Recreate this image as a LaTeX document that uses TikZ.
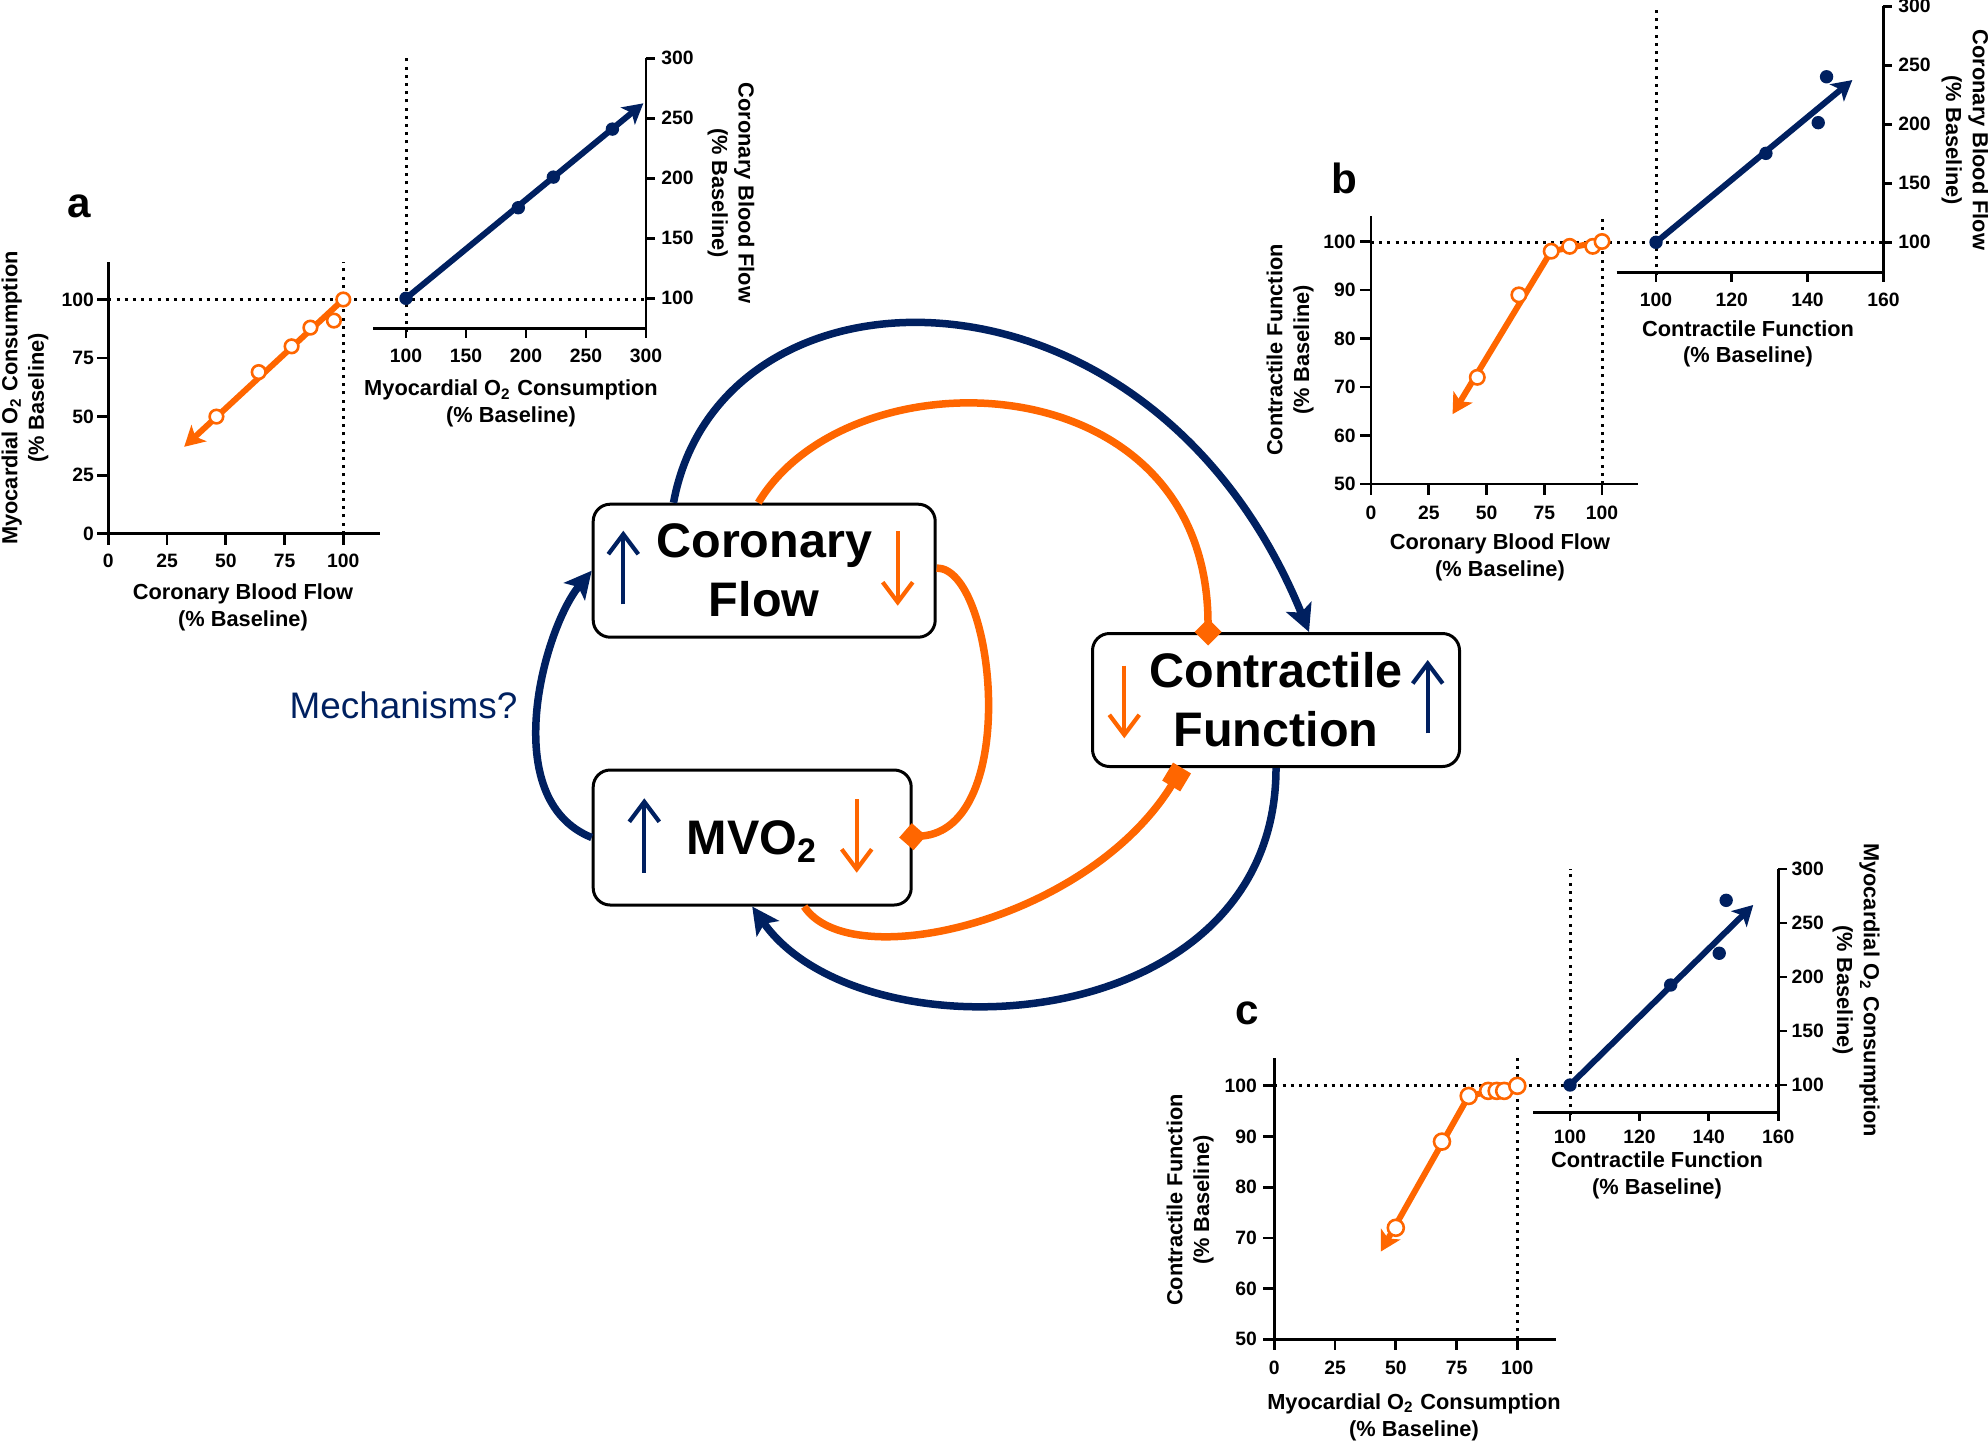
\documentclass[tikz,border=0pt]{standalone}
\usepackage{fontspec}
\setmainfont{Liberation Sans}
\usetikzlibrary{arrows.meta}
\definecolor{navy}{HTML}{002060}
\definecolor{orng}{HTML}{FF6600}
\tikzset{
  axline/.style={line width=0.28mm},
  dotline/.style={line width=0.3mm,dash pattern=on 0.3mm off 0.52mm},
  ticklab/.style={font=\fontsize{5.5}{6.5}\selectfont\bfseries,inner sep=0pt},
  axtitle/.style={font=\fontsize{6.2}{7.6}\selectfont\bfseries,align=center,inner sep=0pt},
  plabel/.style={font=\fontsize{12}{14}\selectfont\bfseries,inner sep=0pt},
  odot/.style={draw=orng,fill=white,line width=0.26mm},
  ofit/.style={orng,line width=0.6mm,line join=round,-{Stealth[length=2mm,width=2.2mm,inset=0.5mm]}},
  nfit/.style={navy,line width=0.6mm,-{Stealth[length=2mm,width=2.2mm,inset=0.5mm]}},
  fbox/.style={draw,line width=0.3mm,rounded corners=1.7mm,align=center,inner sep=0pt,
    font=\fontsize{13.8}{16.8}\selectfont\bfseries},
  nlink/.style={navy,line width=0.75mm,-{Stealth[length=2.7mm,width=2.7mm,inset=0.6mm]}},
  olink/.style={orng,line width=0.75mm,-{Turned Square[length=2.7mm,width=2.7mm]}},
  oslink/.style={orng,line width=0.75mm,-{Square[length=2.1mm,width=2.1mm]}},
  uparr/.style={navy,line width=0.42mm,-{Straight Barb[length=2mm,width=3mm]}},
  dnarr/.style={orng,line width=0.42mm,-{Straight Barb[length=2mm,width=3mm]}},
}
\begin{document}
\begin{tikzpicture}[x=0.1mm,y=-0.1mm]
\useasboundingbox (0,0) rectangle (1988,1442);

% baselines of the three panels
\draw[dotline] (108.3,299) -- (646,299);
\draw[dotline] (1371,242) -- (1883.3,242);
\draw[dotline] (1274.3,1085.4) -- (1778.3,1085.4);

% panel a, left
\begin{scope}[shift={(108.3,533.7)},x=0.235mm,y=0.2342mm]
  \draw[axline] (0,116) -- (0,0) -- (115.6,0);
  \foreach \v in {0,25,...,100}{
    \draw[axline] (\v,0) -- ++(0,-1.1mm) node[ticklab,yshift=-1.6mm]{\v};
    \draw[axline] (0,\v) -- ++(-1.1mm,0) node[ticklab,anchor=east,xshift=-0.2mm]{\v};}
  \draw[dotline] (100,0) -- (100,116);
  \draw[ofit] (100,100) -- (32.3,37.1);
  \foreach \p/\q in {46/50,64/69,78/80,86/88,96/91,100/100}
    \draw[odot] (\p,\q) circle[radius=0.68mm];
\end{scope}
% panel a, right
\begin{scope}[shift={(286,418.3)},x=0.12mm,y=0.12mm]
  \draw[axline] (72.5,75) -- (300,75) -- (300,300);
  \foreach \v in {100,150,...,300}{
    \draw[axline] (\v,75) -- ++(0,-1mm) node[ticklab,yshift=-1.8mm]{\v};
    \draw[axline] (300,\v) -- ++(0.9mm,0) node[ticklab,anchor=west,xshift=0.5mm]{\v};}
  \draw[dotline] (100,72) -- (100,300);
  \draw[nfit] (100,100) -- (297.8,262.5);
  \foreach \p/\q in {100/100,193.6/175.5,222.8/201,272/241}
    \fill[navy] (\p,\q) circle[radius=0.67mm];
\end{scope}

% panel b, left
\begin{scope}[shift={(1371,726.5)},x=0.231mm,y=0.485mm]
  \draw[axline] (0,105.2) -- (0,50) -- (115.6,50);
  \foreach \v in {0,25,...,100}
    \draw[axline] (\v,50) -- ++(0,-1.1mm) node[ticklab,yshift=-1.75mm]{\v};
  \foreach \v in {50,60,...,100}
    \draw[axline] (0,\v) -- ++(-1.1mm,0) node[ticklab,anchor=east,xshift=-0.3mm]{\v};
  \draw[dotline] (100,50) -- (100,105.2);
  \draw[ofit] (100,100) -- (78,98) -- (35.3,64.4);
  \foreach \p/\q in {46/72,64/89,78/98,86/99,96/99,100/100}
    \draw[odot] (\p,\q) circle[radius=0.72mm];
\end{scope}
% panel b, right
\begin{scope}[shift={(1277,360.3)},x=0.379mm,y=0.118mm]
  \draw[axline] (89.6,74.6) -- (160,74.6) -- (160,300);
  \foreach \v in {100,120,140,160}
    \draw[axline] (\v,74.6) -- ++(0,-0.95mm) node[ticklab,yshift=-1.8mm]{\v};
  \foreach \v in {100,150,...,300}
    \draw[axline] (160,\v) -- ++(0.9mm,0) node[ticklab,anchor=west,xshift=0.45mm]{\v};
  \draw[dotline] (100,72) -- (100,300);
  \draw[nfit] (100,100) -- (151.8,237.5);
  \foreach \p/\q in {100/100,129/175.4,142.8/201.4,145/240.3}
    \fill[navy] (\p,\q) circle[radius=0.67mm];
\end{scope}

% panel c, left
\begin{scope}[shift={(1274.3,1592.8)},x=0.243mm,y=0.507mm]
  \draw[axline] (0,105.4) -- (0,50) -- (115.9,50);
  \foreach \v in {0,25,...,100}
    \draw[axline] (\v,50) -- ++(0,-1.1mm) node[ticklab,yshift=-1.74mm]{\v};
  \foreach \v in {50,60,...,100}
    \draw[axline] (0,\v) -- ++(-1.1mm,0) node[ticklab,anchor=east,xshift=-0.5mm]{\v};
  \draw[dotline] (100,50) -- (100,105.4);
  \draw[ofit] (100,100) -- (80,98) -- (43.8,67.3);
  \foreach \p/\q in {50/72,69/89,80/98,88/99,91.5/99,94.6/99,100/100}
    \draw[odot] (\p,\q) circle[radius=0.8mm];
\end{scope}
% panel c, right
\begin{scope}[shift={(1223,1193)},x=0.347mm,y=0.108mm]
  \draw[axline] (89.4,74.7) -- (160,74.7) -- (160,300);
  \foreach \v in {100,120,140,160}
    \draw[axline] (\v,74.7) -- ++(0,-0.9mm) node[ticklab,yshift=-1.55mm]{\v};
  \foreach \v in {100,150,...,300}
    \draw[axline] (160,\v) -- ++(0.9mm,0) node[ticklab,anchor=west,xshift=0.3mm]{\v};
  \draw[dotline] (100,72) -- (100,300);
  \draw[nfit] (100,100) -- (152.8,266.7);
  \foreach \p/\q in {100/100,129/192.6,143/222,145/271}
    \fill[navy] (\p,\q) circle[radius=0.67mm];
\end{scope}

% axis titles and panel letters
\node[axtitle] (ax1) at (243,607) {Coronary Blood Flow\\(\% Baseline)};
\node[axtitle,rotate=90] (ay1) at (25,398) {Myocardial O\textsubscript{2} Consumption\\(\% Baseline)};
\node[axtitle] (ax2) at (511,403.5) {Myocardial O\textsubscript{2} Consumption\\(\% Baseline)};
\node[axtitle,rotate=-90] (ay2) at (731,193) {Coronary Blood Flow\\(\% Baseline)};
\node[axtitle] (bx1) at (1500,557.5) {Coronary Blood Flow\\(\% Baseline)};
\node[axtitle,rotate=90] (by1) at (1290,350) {Contractile Function\\(\% Baseline)};
\node[axtitle] (bx2) at (1748,344) {Contractile Function\\(\% Baseline)};
\node[axtitle,rotate=-90] (by2) at (1965,140) {Coronary Blood Flow\\(\% Baseline)};
\node[axtitle] (cx1) at (1414,1417) {Myocardial O\textsubscript{2} Consumption\\(\% Baseline)};
\node[axtitle,rotate=90] (cy1) at (1190,1200) {Contractile Function\\(\% Baseline)};
\node[axtitle] (cx2) at (1657,1175.5) {Contractile Function\\(\% Baseline)};
\node[axtitle,rotate=-90] (cy2) at (1856,990) {Myocardial O\textsubscript{2} Consumption\\(\% Baseline)};
\node[plabel] (pa) at (79,206.5) {a};
\node[plabel] (pb) at (1344,178) {b};
\node[plabel] (pc) at (1247,1013) {c};

% the three boxes
\node[fbox,minimum width=34.2mm,minimum height=13.3mm] (cf) at (764.2,570.7) {Coronary\\Flow};
\node[fbox,minimum width=31.8mm,minimum height=13.5mm,text depth=0pt] (mvo) at (752.2,837.5) {MVO\textsubscript{2}};
\node[fbox,minimum width=36.7mm,minimum height=13.3mm] (ctf) at (1276,700) {Contractile\\Function};
\draw[uparr] (623.3,604.3) -- (623.3,530.7);
\draw[dnarr] (897.7,531) -- (897.7,605.7);
\draw[uparr] (644.3,872.7) -- (644.3,798.3);
\draw[dnarr] (856.7,799) -- (856.7,872.7);
\draw[dnarr] (1124.3,665.7) -- (1124.3,738.3);
\draw[uparr] (1427.7,733.3) -- (1427.7,660);

% loops between the boxes
\draw[nlink] ([xshift=-9.07mm]cf.north) .. controls +(46.5,-253) and +(-159,-390) .. ([xshift=3.3mm]ctf.north);
\draw[olink] ([xshift=-0.59mm]cf.north) .. controls +(92,-153) and +(0,-286) .. ([xshift=-6.8mm,yshift=-1.35mm]ctf.north);
\draw[olink] ([yshift=0.27mm]cf.east) .. controls +(59,0) and +(122,-8) .. ([xshift=-1.35mm]mvo.east);
\draw[nlink] (mvo.west) .. controls +(-95,-38) and +(-48,58) .. (cf.west);
\draw[nlink] (ctf.south) .. controls +(0,273) and +(109,155) .. (mvo.south);
\draw[oslink] ([xshift=5.2mm]mvo.south) .. controls +(46,70) and +(-92,153) .. ([xshift=-9.4mm]ctf.south);
\node[navy,font=\fontsize{10.5}{12}\selectfont] (mech) at (403.5,705) {Mechanisms?};
\end{tikzpicture}
\end{document}
